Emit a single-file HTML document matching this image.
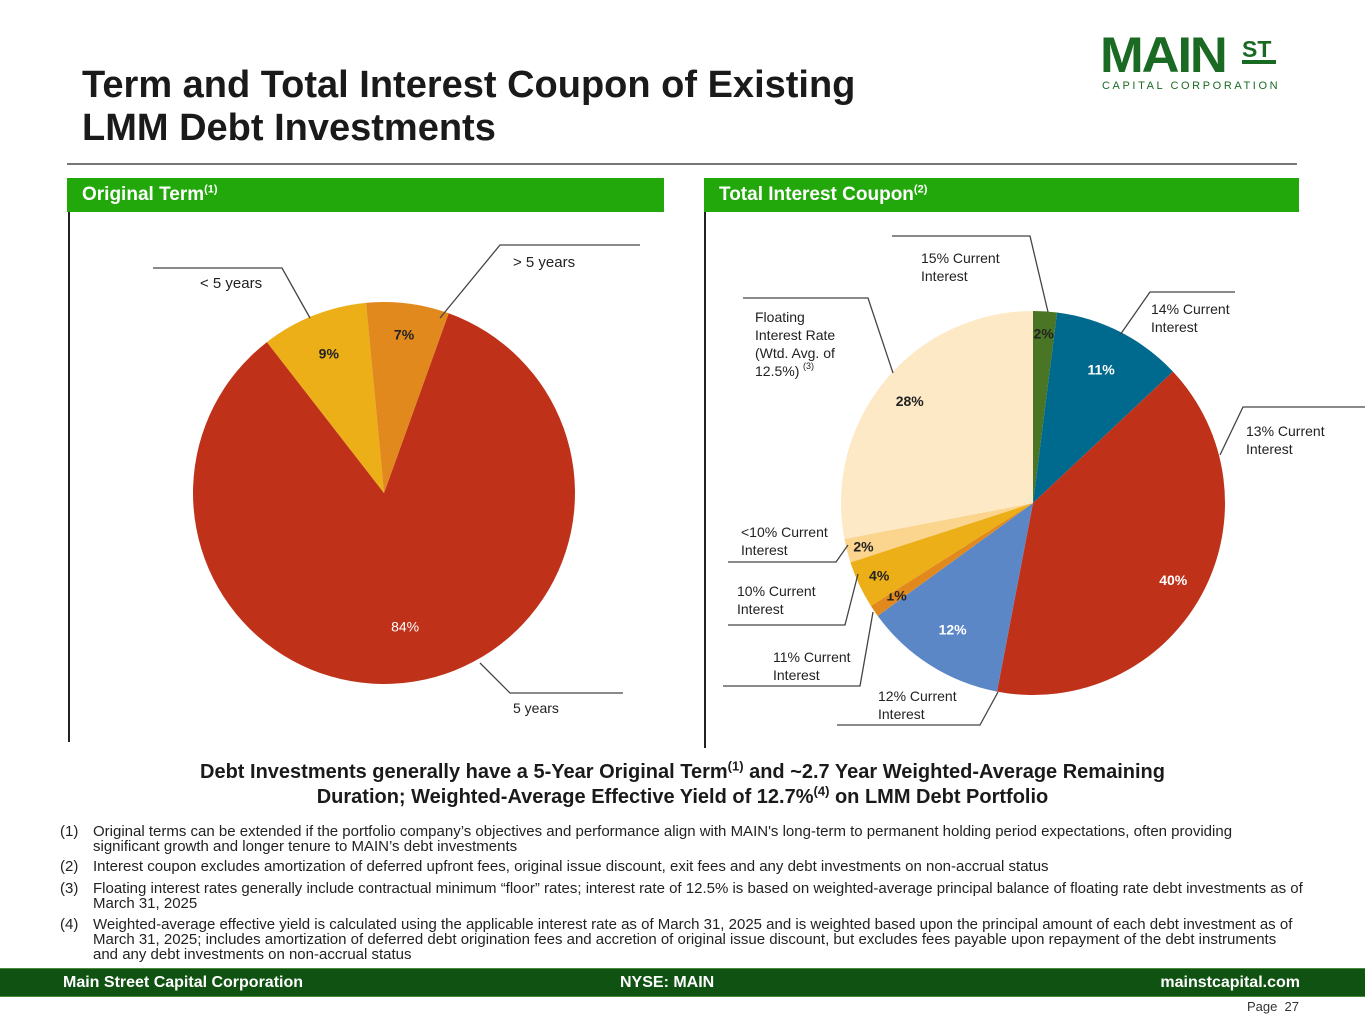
<!DOCTYPE html>
<html><head><meta charset="utf-8"><style>
body{margin:0;width:1365px;height:1024px;position:relative;background:#fff;font-family:"Liberation Sans",sans-serif;overflow:hidden}
.a{position:absolute}
h1{position:absolute;left:82px;top:64px;margin:0;font-size:38px;line-height:43px;font-weight:bold;color:#1a1a1a}
.hdr{position:absolute;top:178px;height:34px;background:#22a80a;color:#fff;font-weight:bold;font-size:19px;line-height:34px;padding-left:15px;box-sizing:border-box}
.hdr sup{font-size:11px;line-height:0}
.fn{position:absolute;left:60px;width:1245px;font-size:15px;line-height:15px;color:#222}
.fn span{position:absolute;left:0}
.fn div{margin-left:33px}
</style></head><body>
<h1>Term and Total Interest Coupon of Existing<br>LMM Debt Investments</h1>
<div class="a" style="left:1100px;top:34px;width:180px;height:60px">
<div style="position:absolute;left:0;top:-8px;font-size:50px;font-weight:900;color:#1a6a24;letter-spacing:-2px;transform:scaleX(1.05);transform-origin:left">MAIN</div>
<div style="position:absolute;left:142px;top:4px;font-size:23px;font-weight:bold;color:#1a6a24;border-bottom:4px solid #1a6a24;line-height:22px;width:34px">ST</div>
<div style="position:absolute;left:2px;top:46px;font-size:11px;letter-spacing:2.6px;color:#1a6a24;white-space:nowrap">CAPITAL CORPORATION</div>
</div>
<div class="a" style="left:67px;top:163px;width:1230px;height:2px;background:#777"></div>
<div class="hdr" style="left:67px;width:597px">Original Term<sup>(1)</sup></div>
<div class="hdr" style="left:704px;width:595px">Total Interest Coupon<sup>(2)</sup></div>
<div class="a" style="left:68px;top:212px;width:2px;height:530px;background:#222"></div>
<div class="a" style="left:704px;top:212px;width:2px;height:536px;background:#222"></div>
<svg class="a" style="left:0;top:0" width="1365" height="760" id="svg" font-family="Liberation Sans, sans-serif"></svg>
<div class="a" style="left:80px;top:760px;width:1205px;text-align:center;font-weight:bold;font-size:20px;line-height:25px;color:#1a1a1a">Debt Investments generally have a 5-Year Original Term<sup style="font-size:13px;line-height:0">(1)</sup> and ~2.7 Year Weighted-Average Remaining<br>Duration; Weighted-Average Effective Yield of 12.7%<sup style="font-size:13px;line-height:0">(4)</sup> on LMM Debt Portfolio</div>
<div class="fn" style="top:824px;width:1190px"><span>(1)</span><div>Original terms can be extended if the portfolio company’s objectives and performance align with MAIN's long-term to permanent holding period expectations, often providing significant growth and longer tenure to MAIN’s debt investments</div></div>
<div class="fn" style="top:859px"><span>(2)</span><div>Interest coupon excludes amortization of deferred upfront fees, original issue discount, exit fees and any debt investments on non-accrual status</div></div>
<div class="fn" style="top:881px"><span>(3)</span><div>Floating interest rates generally include contractual minimum “floor” rates; interest rate of 12.5% is based on weighted-average principal balance of floating rate debt investments as of March 31, 2025</div></div>
<div class="fn" style="top:917px"><span>(4)</span><div>Weighted-average effective yield is calculated using the applicable interest rate as of March 31, 2025 and is weighted based upon the principal amount of each debt investment as of March 31, 2025; includes amortization of deferred debt origination fees and accretion of original issue discount, but excludes fees payable upon repayment of the debt instruments and any debt investments on non-accrual status</div></div>
<div class="a" style="left:0;top:968px;width:1365px;height:27px;background:#0f5212;border-top:1px solid #4a8a3a;border-bottom:1px solid #4a8a3a;color:#fff;font-weight:bold;font-size:16px;line-height:27px">
<span style="position:absolute;left:63px">Main Street Capital Corporation</span>
<span style="position:absolute;left:620px">NYSE: MAIN</span>
<span style="position:absolute;right:65px">mainstcapital.com</span></div>
<div class="a" style="right:66px;top:999px;font-size:13px;color:#333">Page&nbsp; 27</div>
<script>
const termCats=["5 years","< 5 years","> 5 years"];
const termVals=[84,9,7];
const couponCats=["15% Current Interest","14% Current Interest","13% Current Interest","12% Current Interest","11% Current Interest","10% Current Interest","<10% Current Interest","Floating Interest Rate"];
const couponVals=[2,11,40,12,1,4,2,28];
const svg=document.getElementById('svg');
const NS='http://www.w3.org/2000/svg';
function mk(t,a){const e=document.createElementNS(NS,t);for(const k in a)e.setAttribute(k,a[k]);svg.appendChild(e);return e;}
function pt(cx,cy,r,deg){const a=(deg-90)*Math.PI/180;return [cx+r*Math.cos(a),cy+r*Math.sin(a)];}
function pie(cx,cy,r,vals,start,colors,names,labelColors,labelR,fw){
  const tot=vals.reduce((a,b)=>a+b,0);let a0=start;
  vals.forEach((v,i)=>{const sw=v/tot*360,a1=a0+sw;const p0=pt(cx,cy,r,a0),p1=pt(cx,cy,r,a1);
    const p=mk('path',{d:`M${cx},${cy}L${p0[0]},${p0[1]}A${r},${r} 0 ${sw>180?1:0} 1 ${p1[0]},${p1[1]}Z`,fill:colors[i]});
    
    
    const lr=labelR[i]||r*0.7;const m=pt(cx,cy,lr,a0+sw/2);
    const t=mk('text',{x:m[0],y:m[1]+5,'text-anchor':'middle','font-size':14,'font-weight':fw[i],fill:labelColors[i]});t.textContent=v+'%';
    
    
    a0=a1;});
}
pie(384,493,191,termVals,19.8,['#bf3219','#ecaf17','#e2891e'],['slice-5-years','slice-lt-5-years','slice-gt-5-years'],['#fff','#222','#222'],[135,150,160],['normal','bold','bold']);
pie(1033,503,192,couponVals,0,['#4a7524','#006a8e','#bf3219','#5b87c7','#e2891e','#ecaf17','#fbd48e','#fde9c6'],['slice-15pct','slice-14pct','slice-13pct','slice-12pct','slice-11pct','slice-10pct','slice-lt10pct','slice-floating'],['#222','#fff','#fff','#fff','#222','#222','#222','#222'],[170,150,160,150,165,170,175,160],['bold','bold','bold','bold','bold','bold','bold','bold']);
function line(pts){mk('polyline',{points:pts,fill:'none',stroke:'#444','stroke-width':1.3});}
function txt(x,y,lines,sz){lines.forEach((l,i)=>{const t=mk('text',{x:x,y:y+i*18,'font-size':sz||14,fill:'#222'});t.textContent=l;});}
line('153,268 282,268 310,318');txt(200,288,['< 5 years'],15);
line('640,245 500,245 440,318');txt(513,267,['> 5 years'],15);
line('623,693 510,693 480,663');txt(513,713,['5 years']);
line('892,236 1030,236 1048,312');txt(921,263,['15% Current','Interest']);
line('1235,292 1150,292 1120,335');txt(1151,314,['14% Current','Interest']);
line('1365,407 1243,407 1220,455');txt(1246,436,['13% Current','Interest']);
line('743,298 868,298 893,373');txt(755,322,['Floating','Interest Rate','(Wtd. Avg. of','12.5%)']);
line('728,562 836,562 848,545');txt(741,537,['<10% Current','Interest']);
line('728,625 845,625 858,574');txt(737,596,['10% Current','Interest']);
line('723,686 860,686 873,612');txt(773,662,['11% Current','Interest']);
line('837,725 980,725 998,692');txt(878,701,['12% Current','Interest']);
const s=mk('text',{x:803,y:369,'font-size':9,fill:'#222'});s.textContent='(3)';
</script>
</body></html>
